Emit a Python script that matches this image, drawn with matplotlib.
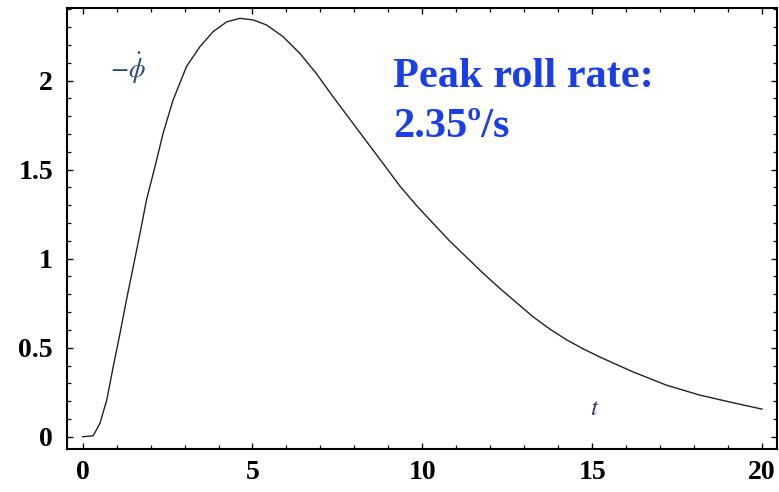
import matplotlib
matplotlib.use("Agg")
import matplotlib.pyplot as plt
from matplotlib.ticker import MultipleLocator, FixedLocator

t_vals = [0.0, 0.31, 0.51, 0.71, 0.90, 1.10, 1.29, 1.49, 1.69, 1.88, 2.13, 2.37, 2.66,
          3.06, 3.45, 3.84, 4.24, 4.63, 5.02, 5.41, 5.90, 6.39, 6.88, 7.37, 7.86, 8.35,
          8.84, 9.33, 9.82, 10.31, 10.80, 11.29, 11.78, 12.27, 12.76, 13.25, 13.75, 14.24,
          14.72, 15.21, 16.19, 17.18, 18.16, 19.14, 20.0]
roll_rate = [0.0, 0.005, 0.075, 0.206, 0.393, 0.58, 0.768, 0.955, 1.143, 1.33, 1.517,
             1.705, 1.89, 2.08, 2.19, 2.275, 2.33, 2.35, 2.341, 2.313, 2.247, 2.154, 2.04,
             1.91, 1.785, 1.66, 1.536, 1.41, 1.30, 1.20, 1.10, 1.01, 0.92, 0.835, 0.755,
             0.675, 0.605, 0.545, 0.495, 0.449, 0.365, 0.29, 0.234, 0.191, 0.155]
x_ticks = [0, 5, 10, 15, 20]
y_ticks = [0, 0.5, 1, 1.5, 2]
y_tick_labels = ["0", "0.5", "1", "1.5", "2"]
annotation = "Peak roll rate:\n2.35º/s"

fig = plt.figure(figsize=(7.79, 4.92), dpi=100)
ax = fig.add_axes([67/779, 1-449/492, (777-67)/779, (449-8)/492])

ax.plot(t_vals, roll_rate, color="#222222", lw=1.0, solid_joinstyle="round")

ax.set_xlim(-0.46, 20.44)
ax.set_ylim(-0.069, 2.408)

ax.xaxis.set_major_locator(FixedLocator(x_ticks))
ax.xaxis.set_minor_locator(MultipleLocator(1))
ax.yaxis.set_major_locator(FixedLocator(y_ticks))
ax.yaxis.set_minor_locator(MultipleLocator(0.1))
ax.set_xticklabels([str(v) for v in x_ticks])
ax.set_yticklabels(y_tick_labels)

for s in ax.spines.values():
    s.set_linewidth(1.5)

ax.tick_params(which="both", direction="in", top=True, right=True, color="#111111")
ax.tick_params(which="major", length=4.5, width=1.0)
ax.tick_params(which="minor", length=2.6, width=0.9)
ax.tick_params(axis="y", which="major", pad=10)
ax.tick_params(axis="x", which="major", pad=8)
for lab in ax.get_xticklabels() + ax.get_yticklabels():
    lab.set_fontfamily("Liberation Serif")
    lab.set_fontweight("bold")
    lab.set_fontsize(20)

plt.rcParams["mathtext.fontset"] = "stix"
ax.text(1.33, 2.07, r"$-\dot{\phi}$", fontsize=19, color="#2a4a7a",
        ha="center", va="center")
ax.text(15.07, 0.16, r"$t$", fontsize=18, color="#3a3a6a", ha="center", va="center")

fig.text(393/779, 1-137/492, annotation, fontfamily="Liberation Serif", fontweight="bold",
         fontsize=30.5, color="#1a3fe6", ha="left", va="baseline", linespacing=1.42,
         transform=fig.transFigure)

fig.savefig("out.png", dpi=100)
